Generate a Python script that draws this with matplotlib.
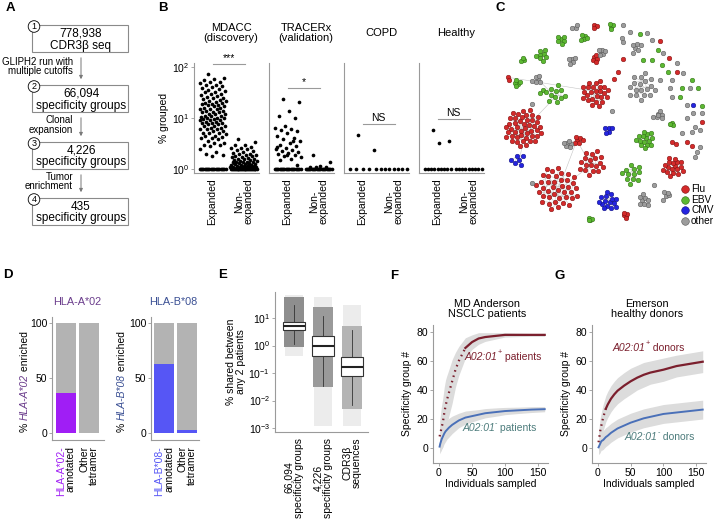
import numpy as np
import matplotlib
matplotlib.use('Agg')
import matplotlib.pyplot as plt
from matplotlib.patches import Rectangle, Circle, FancyArrowPatch

plt.rcParams['font.family'] = ['Liberation Sans', 'DejaVu Sans']
plt.rcParams['mathtext.fontset'] = 'custom'
plt.rcParams['mathtext.rm'] = 'Liberation Sans'
plt.rcParams['mathtext.it'] = 'Liberation Sans:italic'
plt.rcParams['font.size'] = 7.5

# ---------------- data ----------------
# Panel A
a_counts = ['778,938', '66,094', '4,226', '435']
a_units = ['CDR3β seq', 'specificity groups', 'specificity groups', 'specificity groups']
a_steps = ['GLIPH2 run with\nmultiple cutoffs', 'Clonal\nexpansion', 'Tumor\nenrichment']

# Panel B  (% grouped, non-baseline values + count of patients at 10^0)
b_titles = ['MDACC\n(discovery)', 'TRACERx\n(validation)', 'COPD', 'Healthy']
b_cats = ['Expanded', 'Non-\nexpanded']
b_sig = ['***', '*', 'NS', 'NS']
b_sig_y = [114, 39, 7.6, 9.5]
mdacc_exp = [72, 62, 58, 55, 52, 50, 48, 45, 44, 42, 40, 38, 37, 35, 34, 33, 32, 30, 29, 28,
             27, 26, 25, 25, 24, 23, 22, 22, 21, 20, 20, 19, 19, 18, 18, 17, 17, 16, 16, 15,
             15, 15, 14, 14, 13, 13, 13, 12, 12, 12, 11, 11, 11, 10.5, 10, 10, 10, 9.5, 9.5, 9,
             9, 9, 8.5, 8.5, 8, 8, 8, 7.5, 7.5, 7, 7, 7, 6.5, 6.5, 6, 6, 6, 5.5, 5.5, 5,
             5, 5, 4.8, 4.5, 4.5, 4.2, 4, 4, 3.8, 3.5, 3.3, 3.2, 3, 3, 2.8, 2.5, 2.2, 2.0, 1.9, 1.8]
mdacc_non = [3.9, 3.4, 3.0, 2.9, 2.7, 2.6, 2.6, 2.5, 2.4, 2.3, 2.2, 2.1, 2.0, 2.0, 1.9, 1.9,
             1.8, 1.8, 1.7, 1.7, 1.65, 1.6, 1.6, 1.55, 1.5, 1.5, 1.45, 1.45, 1.4, 1.4, 1.38,
             1.35, 1.35, 1.3, 1.3, 1.28, 1.25, 1.25, 1.22, 1.2, 1.2, 1.18, 1.15, 1.15, 1.12,
             1.1, 1.1, 1.1, 1.08, 1.08, 1.06, 1.05, 1.05, 1.04, 1.03, 1.02, 1.02, 1.01, 1.3,
             1.2, 1.15, 1.1, 1.07]
tracerx_exp = [24, 21, 14, 11, 10, 7, 6.5, 6, 5.8, 5.5, 5, 4.5, 4, 3.8, 3.5, 3.3, 3, 2.8,
               2.6, 2.5, 2.4, 2.3, 2.2, 2.1, 2.0, 1.9, 1.8, 1.7, 1.6, 1.5, 1.2, 1.9, 2.7, 3.6]
tracerx_non = [1.9, 1.35, 1.15, 1.1, 1.1, 1.08]
copd_exp = [4.6, 2.4]
copd_non = []
healthy_exp = [5.8, 3.5, 3.2]
healthy_non = []
b_values = [(mdacc_exp, mdacc_non), (tracerx_exp, tracerx_non),
            (copd_exp, copd_non), (healthy_exp, healthy_non)]
b_base_counts = [(22, 26), (22, 22), (5, 7), (9, 9)]

# Panel C network: clusters (x, y, n, radius, class) and singletons
c_names = ['Flu', 'EBV', 'CMV', 'other']
c_colors = ['#d42a2a', '#5cb832', '#2424e0', '#9c9c9c']
c_edge = ['#7a1010', '#2f6a14', '#10107a', '#555555']
clu_x = [190, 290, 395, 355, 325, 405, 640, 497, 405, 425, 405, 145,
         555, 515, 390, 635, 245, 305, 372, 188, 172, 290, 455, 250,
         445, 172, 445,
         545, 550, 598, 335, 230, 345, 618, 530]
clu_y = [385, 565, 490, 420, 432, 280, 500, 645, 175, 155, 78, 235,
         418, 520, 657, 372, 165, 120, 112, 180, 250, 285, 80, 275,
         388, 482, 603,
         262, 600, 345, 180, 240, 82, 583, 140]
clu_n = [45, 40, 18, 6, 6, 25, 18, 5, 6, 6, 3, 2,
         15, 12, 4, 4, 8, 6, 5, 3, 5, 10, 4, 3,
         5, 6, 15,
         18, 8, 5, 5, 6, 3, 3, 5]
clu_r = [58, 66, 40, 15, 14, 42, 32, 9, 11, 12, 7, 6,
         28, 32, 6, 6, 20, 15, 11, 8, 11, 30, 9, 11,
         14, 22, 30,
         44, 20, 13, 13, 15, 11, 11, 15]
clu_c = [0, 0, 0, 0, 3, 0, 0, 0, 0, 3, 0, 0,
         1, 1, 1, 1, 1, 1, 1, 1, 1, 1, 1, 1,
         2, 2, 2,
         3, 3, 3, 3, 3, 3, 3, 3]
bridges = [(0, 21), (1, 2), (2, 3), (3, 4), (0, 25), (5, 11), (31, 21), (1, 3)]
sing_x = [490, 510, 560, 575, 485, 520, 610, 650, 670, 635, 600, 690, 630, 635, 680, 700, 725,
          680, 705, 720, 695, 665, 720, 710, 705, 580, 595, 582, 625, 215, 215, 455, 610, 490,
          540, 595, 575, 550, 605, 625, 695, 665, 715, 660, 725,
          600, 490, 627, 650, 725, 680, 695, 635, 647, 475, 462,
          700]
sing_y = [75, 95, 100, 120, 115, 160, 160, 190, 220, 240, 240, 265, 265, 290, 315, 340, 340,
          355, 380, 390, 395, 400, 440, 455, 470, 350, 345, 555, 580, 548, 312, 332, 600, 125,
          103, 150, 180, 180, 195, 215, 240, 265, 265, 290, 318,
          122, 178, 175, 215, 365, 425, 438, 425, 432, 215, 238,
          315]
sing_c = [3] * 34 + [1] * 11 + [0] * 11 + [2]

# Panel D
d_titles = ['HLA-A*02', 'HLA-B*08']
d_title_colors = ['#6b3d8c', '#3b5094']
d_colors = ['#a01ef5', '#5656f5']
d_hla_pct = [[36, 0], [62, 3]]

# Panel E (box statistics, log scale)
e_labels = ['66,094\nspecificity groups', '4,226\nspecificity groups', 'CDR3β\nsequences']
e_med = [5.0, 1.0, 0.16]
e_q1 = [3.8, 0.4, 0.08]
e_q3 = [7.0, 2.3, 0.37]
e_whislo = [1.1, 0.035, 0.007]
e_whishi = [30, 12, 3.7]
e_core_lo = [0.9, 0.03, 0.005]
e_core_hi = [60, 25, 5]
e_tail_lo = [0.4, 0.0012, 0.0012]
e_tail_hi = [70, 60, 30]

# Panels F/G (rarefaction curves)
fg_x = [1, 2, 3, 4, 5, 6, 8, 10, 12, 15, 20, 25, 30, 40, 50, 60, 70, 80, 90, 100, 120, 140, 160]
f_pos_mean = [8, 10, 12, 14.5, 16, 18, 24, 29, 33, 38, 46, 54, 60, 69, 73, 75.5, 76.5, 77, 77.5, 78, 78, 78, 78]
f_pos_sd = [10, 12, 14, 15, 16, 17, 18, 18, 17, 16, 15, 12, 10, 7, 5, 4, 3, 2.5, 2, 1.5, 1.2, 1, 1]
f_neg_mean = [1, 3, 4.5, 6, 7, 8, 10, 11.5, 12.5, 14, 16, 17.5, 19, 21, 22, 23, 24, 24.5, 25, 25.5, 26, 26.5, 26.8]
f_neg_sd = [5, 6, 6.5, 7, 7, 7, 7, 7, 6.5, 6.5, 6, 5.5, 5, 4.5, 4, 3.5, 3.2, 3, 2.8, 2.5, 2.2, 2, 1.8]
g_pos_mean = [4, 7, 10, 13, 15, 17, 21, 24, 27, 30, 34, 37, 39.5, 43, 46, 48.5, 50.5, 52, 53, 54, 56.5, 58, 59.5]
g_pos_sd = [7, 8, 9, 9, 9, 9, 9, 9, 9, 9, 9, 9, 9, 9, 9, 8.5, 8.5, 8, 8, 8, 7.5, 7.5, 7.5]
g_neg_mean = [0.5, 1.5, 2.5, 3.5, 4.5, 5, 5.5, 6.5, 7.5, 8.5, 10.5, 12, 13.5, 15.5, 17.5, 19, 20.5, 21.5, 22.5, 23.5, 24.5, 25.5, 26.5]
g_neg_sd = [5, 5.5, 6, 6, 6, 6.5, 6.5, 6.5, 6.5, 6.5, 6.5, 6.5, 6.5, 6.5, 6.5, 6.5, 6.5, 6.5, 6.5, 6.5, 6.5, 6.5, 6.5]

# ---------------- figure ----------------
W, H = 717, 523
fig = plt.figure(figsize=(W / 100, H / 100), dpi=100)


def axpx(l, t, r, b):
    return fig.add_axes([l / W, 1 - b / H, (r - l) / W, (b - t) / H])


ov = fig.add_axes([0, 0, 1, 1])
ov.set_xlim(0, W)
ov.set_ylim(H, 0)
ov.axis('off')

SP = '#9a9a9a'


def style(ax):
    for s in ['top', 'right']:
        ax.spines[s].set_visible(False)
    for s in ['left', 'bottom']:
        ax.spines[s].set_color(SP)
        ax.spines[s].set_linewidth(0.8)
    ax.tick_params(length=2, width=0.6, color=SP, labelsize=7.5, pad=1.5)
    ax.patch.set_alpha(0)


def sup_label(ax, x, y, base, sign, rest, color, fs=7.5):
    t1 = ax.text(x, y, base, color=color, style='italic', ha='left', va='center', fontsize=fs)
    t2 = ax.annotate(sign, xy=(1.0, 0.55), xycoords=t1, color=color, ha='left', va='bottom',
                     fontsize=fs * 0.7)
    ax.annotate(rest, xy=(1.0, 0.0), xycoords=(t2, t1), color=color, ha='left', va='bottom',
                fontsize=fs)


# panel labels
for lab, (x, y) in zip('ABCDEFG', [(10, 8), (163, 8), (500, 8), (8, 275), (223, 275), (394, 276), (560, 276)]):
    ov.text(x, y, lab, fontsize=9.5, fontweight='bold', ha='center', va='center')

# ---- Panel A ----
tops = [25, 85, 142, 198]
for i, t in enumerate(tops):
    ov.add_patch(Rectangle((32, t), 96, 27, fc='white', ec='#8a8a8a', lw=0.8))
    ov.text(81, t + 14.5, a_counts[i] + '\n' + a_units[i], ha='center', va='center',
            fontsize=8.5, linespacing=1.0)
    ov.add_patch(Circle((34, t + 1.5), 5.8, fc='white', ec='black', lw=0.6, zorder=3))
    ov.text(34, t + 1.8, str(i + 1), ha='center', va='center', fontsize=6.5, zorder=4)
for i in range(3):
    y0 = tops[i] + 27 + 3
    y1 = tops[i + 1] - 3
    ov.add_patch(FancyArrowPatch((81, y0), (81, y1), arrowstyle='-|>', mutation_scale=5,
                                 color='#777777', lw=0.7))
    ov.text(73, (y0 + y1) / 2 - 2, a_steps[i], ha='right', va='center', fontsize=7,
            linespacing=0.95)

# ---- Panel B ----
b_lefts = [194, 269, 344, 419]
for p in range(4):
    ax = axpx(b_lefts[p], 63, b_lefts[p] + 65, 173)
    style(ax)
    ax.set_yscale('log')
    ax.set_ylim(0.835, 120)
    ax.set_xlim(-0.6, 1.5)
    ax.minorticks_off()
    if p == 0:
        ax.set_yticks([1, 10, 100])
        ax.set_yticklabels(['$10^{0}$', '$10^{1}$', '$10^{2}$'])
        ax.set_ylabel('% grouped', labelpad=2)
    else:
        ax.set_yticks([])
    ax.set_xticks([0, 1])
    ax.set_xticklabels(b_cats, rotation=90, va='top', linespacing=0.95)
    ax.tick_params(axis='x', length=0, pad=4)
    for c in range(2):
        vals = b_values[p][c]
        n = len(vals)
        if n:
            k = np.arange(n)
            jx = c + ((k * 0.618034 + 0.31) % 1 - 0.5) * 0.86
            ax.scatter(jx, vals, s=7, color='black', lw=0, clip_on=False)
        nb = b_base_counts[p][c]
        bx = c + np.linspace(-0.42, 0.42, nb)
        ax.scatter(bx, np.ones(nb), s=7, color='black', lw=0, clip_on=False)
    ax.plot([0, 1.05], [b_sig_y[p]] * 2, color=SP, lw=0.8, clip_on=False)
    ax.text(0.52, b_sig_y[p] * 1.05, b_sig[p], ha='center', va='bottom', fontsize=7.5,
            clip_on=False)
    ov.text(b_lefts[p] + 37, 33, b_titles[p], ha='center', va='center', fontsize=8,
            linespacing=1.0)

# ---- Panel C ----
axc = axpx(495, 15, 717, 230)
axc.set_xlim(105, 771)
axc.set_ylim(690, 45)
axc.axis('off')
GA = 2.39996
centers = []
for i in range(len(clu_x)):
    n = clu_n[i]
    k = np.arange(n)
    rr = clu_r[i] * np.sqrt((k + 0.5) / n)
    th = k * GA + i
    xs = clu_x[i] + rr * np.cos(th)
    ys = clu_y[i] + rr * np.sin(th)
    centers.append((xs[0], ys[0]))
    for j in range(1, n):
        par = j // 2
        axc.plot([xs[j], xs[par]], [ys[j], ys[par]], color='#c4c4c4', lw=0.4, zorder=1)
    ci = clu_c[i]
    axc.scatter(xs, ys, s=11, color=c_colors[ci], edgecolors=c_edge[ci], linewidths=0.35, zorder=3)
for a, b in bridges:
    axc.plot([centers[a][0], centers[b][0]], [centers[a][1], centers[b][1]],
             color='#c4c4c4', lw=0.4, zorder=1)
for x, y, ci in zip(sing_x, sing_y, sing_c):
    axc.scatter([x], [y], s=11, color=c_colors[ci], edgecolors=c_edge[ci], linewidths=0.35, zorder=3)
for i, nm in enumerate(c_names):
    yy = 189 + i * 10.7
    ov.scatter([685], [yy], s=30, color=c_colors[i], edgecolors=c_edge[i], linewidths=0.4, zorder=5)
    ov.text(691, yy, nm, ha='left', va='center', fontsize=7.3)

# ---- Panel D ----
d_axes = [(52, 104, (-0.61, 1.65)), (151, 199, (-0.57, 1.5))]
d_ylab_x = [25, 122]
d_title_x = [77, 173]
for p in range(2):
    l, r, xl = d_axes[p]
    ax = axpx(l, 317, r, 440)
    style(ax)
    ax.set_xlim(*xl)
    ax.set_ylim(-6.4, 105)
    ax.set_yticks([0, 50, 100])
    ax.bar([0, 1], [100, 100], width=0.87, color='#b3b3b3', zorder=1)
    ax.bar([0, 1], d_hla_pct[p], width=0.87, color=d_colors[p], zorder=2)
    ax.set_xticks([])
    ov.text(d_title_x[p], 302, d_titles[p], color=d_title_colors[p], ha='center',
            va='center', fontsize=7.8)
    # x labels
    ax.text(-0.21, -12, d_titles[p] + '-', color=d_colors[p], rotation=90, ha='center',
            va='top', fontsize=7.5)
    ax.text(0.21, -12, 'annotated', rotation=90, ha='center', va='top', fontsize=7.5)
    ax.text(0.79, -12, 'Other', rotation=90, ha='center', va='top', fontsize=7.5)
    ax.text(1.21, -12, 'tetramer', rotation=90, ha='center', va='top', fontsize=7.5)
    # y label
    t1 = ov.text(d_ylab_x[p], 432, '% ', rotation=90, ha='center', va='bottom', fontsize=7.5)
    t2 = ov.annotate(d_titles[p], xy=(0.5, 1), xycoords=t1, rotation=90, ha='center',
                     va='bottom', fontsize=7.5, style='italic', color=d_title_colors[p])
    ov.annotate(' enriched', xy=(0.5, 1), xycoords=t2, rotation=90, ha='center',
                va='bottom', fontsize=7.5)

# ---- Panel E ----
axe = axpx(275, 292, 368, 432)
style(axe)
axe.set_yscale('log')
axe.set_ylim(7.2e-4, 88)
axe.set_xlim(0.345, 3.55)
pos = [1, 2, 3]
core_cols = ['#8e8e8e', '#9a9a9a', '#b4b4b4']
for i in range(3):
    axe.fill_betweenx([e_tail_lo[i], e_tail_hi[i]], pos[i] - 0.3, pos[i] + 0.3,
                      color='#ececec', lw=0, zorder=1)
    axe.fill_betweenx([e_core_lo[i], e_core_hi[i]], pos[i] - 0.36, pos[i] + 0.36,
                      color=core_cols[i], lw=0, zorder=1)
stats = [dict(med=e_med[i], q1=e_q1[i], q3=e_q3[i], whislo=e_whislo[i], whishi=e_whishi[i],
              fliers=[]) for i in range(3)]
axe.bxp(stats, positions=pos, widths=0.76, showcaps=False, showfliers=False, patch_artist=True,
        boxprops=dict(facecolor='white', edgecolor='#333333', lw=0.8),
        medianprops=dict(color='#222222', lw=1.5),
        whiskerprops=dict(color='#333333', lw=0.6), manage_ticks=False, zorder=3)
axe.minorticks_off()
axe.set_yticks([10, 1, 0.1, 0.01, 0.001])
axe.set_yticklabels(['$10^{1}$', '$10^{0}$', '$10^{-1}$', '$10^{-2}$', '$10^{-3}$'])
axe.set_xticks(pos)
axe.set_xticklabels(e_labels, rotation=90, va='top', linespacing=0.95)
axe.tick_params(axis='x', length=0, pad=4)
axe.set_ylabel('% shared between\nany 2 patients', labelpad=2, linespacing=1.0)

# ---- Panels F, G ----
fg_specs = [
    (433, 548, f_pos_mean, f_pos_sd, f_neg_mean, f_neg_sd, 'MD Anderson\nNSCLC patients',
     487, 'patients', (39, 63), (35, 14), 40),
    (592, 706, g_pos_mean, g_pos_sd, g_neg_mean, g_neg_sd, 'Emerson\nhealthy donors',
     647, 'donors', (23, 69), (41, 7.6), 12),
]
RED = '#7b1f2d'
BLUE = '#4a70b8'
TEAL = '#4d7c7c'
xs = np.array(fg_x, dtype=float)
for l, r, pm, ps, nm, nsd, title, tx, who, ppos, npos, dotcut in fg_specs:
    ax = axpx(l, 325, r, 463)
    style(ax)
    ax.set_xlim(-9, 165)
    ax.set_ylim(-10.3, 84.8)
    pm = np.array(pm); ps = np.array(ps); nm = np.array(nm); nsd = np.array(nsd)
    ax.fill_between(xs, pm - ps, pm + ps, color='#dcdcdc', lw=0, zorder=1)
    ax.fill_between(xs, nm - nsd, nm + nsd, color='#dcdcdc', lw=0, zorder=1)
    early = xs <= dotcut
    late = xs >= dotcut
    ax.plot(xs[early], pm[early], color=RED, lw=1.6, ls=(0, (0.7, 1.8)), zorder=3)
    ax.plot(xs[late], pm[late], color=RED, lw=1.6, zorder=3)
    ax.plot(xs, nm, color=BLUE, lw=1.4, zorder=3)
    ax.set_xticks([0, 50, 100, 150])
    ax.set_yticks([0, 20, 40, 60, 80])
    ax.set_xlabel('Individuals sampled', labelpad=1)
    ax.set_ylabel('Specificity group #', labelpad=3)
    sup_label(ax, ppos[0], ppos[1], 'A02:01', '+', ' ' + who, RED)
    sup_label(ax, npos[0], npos[1], 'A02:01', '-', ' ' + who, TEAL)
    ov.text(tx, 309, title, ha='center', va='center', fontsize=7.8, linespacing=1.0)

fig.savefig('out.png', dpi=100)
